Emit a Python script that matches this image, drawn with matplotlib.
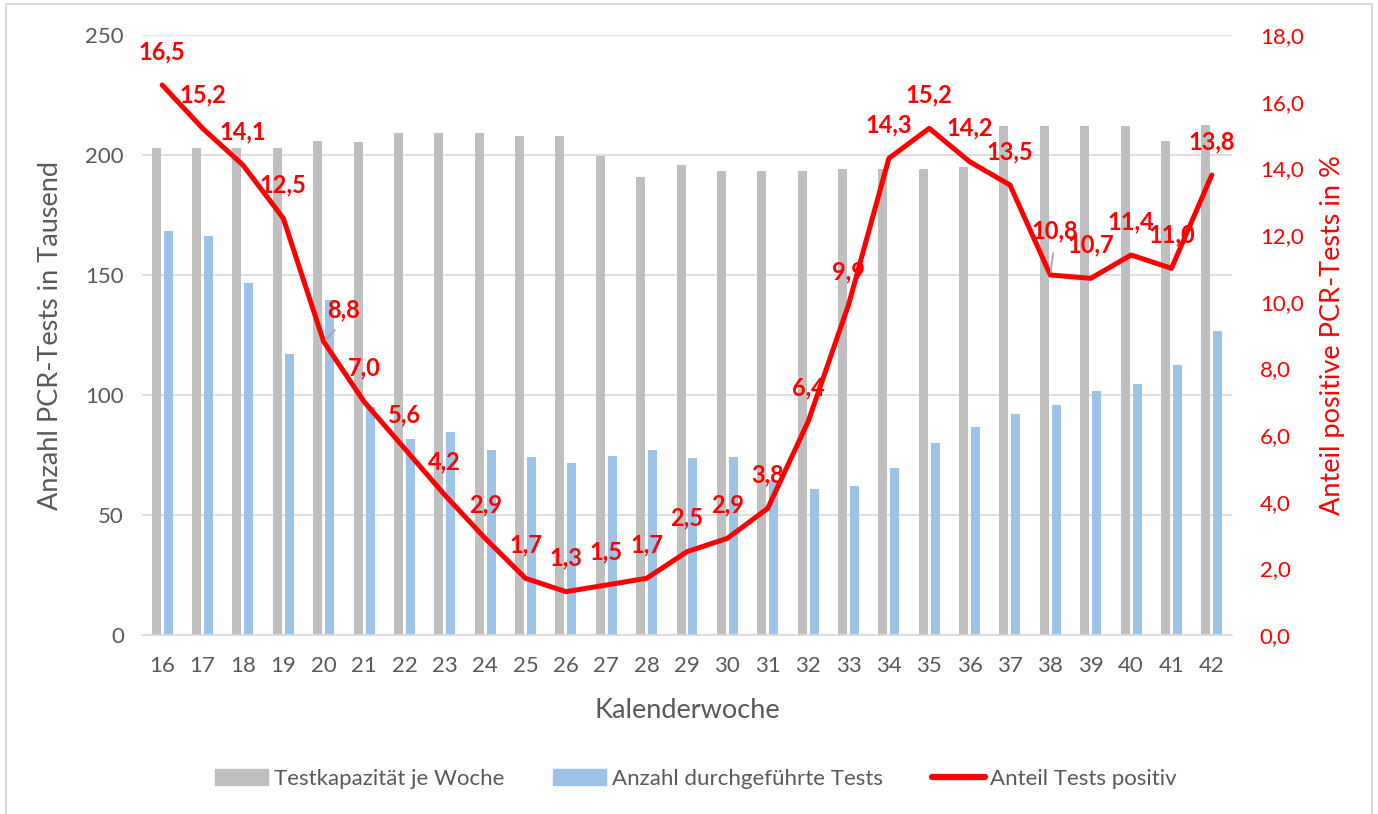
import numpy as np
import matplotlib
matplotlib.use("Agg")
import matplotlib.pyplot as plt
import matplotlib.patches as patches
from matplotlib.lines import Line2D

plt.rcParams["font.family"] = ["Lato", "DejaVu Sans"]

# data
weeks = [16, 17, 18, 19, 20, 21, 22, 23, 24, 25, 26, 27, 28, 29,
         30, 31, 32, 33, 34, 35, 36, 37, 38, 39, 40, 41, 42]
capacity = [203, 203, 203, 203, 206, 205.5, 209, 209, 209, 208, 208, 199.5, 191, 196,
            193.3, 193.3, 193.3, 194, 194, 194, 195, 212, 212, 212, 212, 206, 212.7]
tests = [168.5, 166.2, 146.5, 117, 139.7, 95, 81.8, 84.7, 77.1, 74, 71.8, 74.4, 76.9, 73.7,
         74, 64.6, 60.7, 61.9, 69.4, 80, 86.8, 91.9, 95.7, 101.8, 104.6, 112.6, 126.5]
positive = [16.5, 15.2, 14.1, 12.5, 8.8, 7.0, 5.6, 4.2, 2.9, 1.7, 1.3, 1.5, 1.7, 2.5,
            2.9, 3.8, 6.4, 9.9, 14.3, 15.2, 14.2, 13.5, 10.8, 10.7, 11.4, 11.0, 13.8]

GREY = "#BFBFBF"
BLUE = "#9DC3E6"
RED = "#FF0000"
TXT = "#595959"
GRID = "#D9D9D9"

fig = plt.figure(figsize=(13.78, 8.14), dpi=100)
ax = fig.add_axes([142 / 1378, 179 / 814, 1090 / 1378, 600 / 814])
ax2 = ax.twinx()

x = np.arange(len(weeks))
ax.bar(x - 0.148, capacity, width=0.223, color=GREY, zorder=2)
ax.bar(x + 0.148, tests, width=0.223, color=BLUE, zorder=2)

ax.set_xlim(-0.5, len(weeks) - 0.5)
ax.set_ylim(0, 250)
ax.set_yticks(np.arange(0, 251, 50))
ax.yaxis.grid(True, color=GRID, lw=1.2, zorder=0)
ax.set_axisbelow(True)
ax.set_xticks(x)
ax.set_xticklabels([str(w) for w in weeks])
for s in ["top", "right", "left"]:
    ax.spines[s].set_visible(False)
ax.spines["bottom"].set_color(GRID)
ax.spines["bottom"].set_linewidth(1.2)
ax.tick_params(axis="both", length=0, labelsize=16, labelcolor=TXT)
ax.tick_params(axis="x", pad=15)
ax.tick_params(axis="y", pad=13)
ax.set_xlabel("Kalenderwoche", fontsize=19.5, color=TXT, labelpad=16)
ax.set_ylabel("Anzahl PCR-Tests in Tausend", fontsize=19.5, color=TXT, labelpad=16)

ax2.plot(x, positive, color=RED, lw=3.6, solid_joinstyle="round", solid_capstyle="round", zorder=3)
ax2.set_ylim(0, 18)
ax2.set_yticks(np.arange(0, 18.1, 2))
ax2.set_yticklabels([f"{v:.1f}".replace(".", ",") for v in np.arange(0, 18.1, 2)])
for s in ax2.spines.values():
    s.set_visible(False)
ax2.tick_params(axis="y", length=0, labelsize=16, labelcolor=RED, pad=20)
ax2.set_ylabel("Anteil positive PCR-Tests in %", fontsize=19.5, color=RED, labelpad=12)

# data labels, offsets in points
offsets = {4: (14, 23), 22: (3, 32)}
for i, v in enumerate(positive):
    dx, dy = offsets.get(i, (0, 24))
    lab = f"{v:.1f}".replace(".", ",")
    kw = dict(xytext=(dx, dy), textcoords="offset points", ha="center", va="center",
              color=RED, fontsize=17, fontweight="bold", zorder=4)
    if i in offsets:
        kw["arrowprops"] = dict(arrowstyle="-", color="#A6A6A6", lw=1.3,
                                shrinkA=6, shrinkB=2, relpos=(0.5, 0.0))
    ax2.annotate(lab, (x[i], v), **kw)

handles = [patches.Patch(color=GREY), patches.Patch(color=BLUE),
           Line2D([0], [0], color=RED, lw=4.5, solid_capstyle="round")]
fig.legend(handles, ["Testkapazität je Woche", "Anzahl durchgeführte Tests", "Anteil Tests positiv"],
           loc="center", bbox_to_anchor=(0.505, 0.043), ncol=3, frameon=False,
           fontsize=16, labelcolor=TXT, handlelength=2.4, handleheight=0.7,
           handletextpad=0.25, columnspacing=2.2)

fig.patches.append(patches.Rectangle((6 / 1378, -0.01), 1366 / 1378, 1.01 - 4 / 814,
                                     transform=fig.transFigure, fill=False,
                                     edgecolor=GRID, lw=1.5))

fig.savefig("out.png", dpi=100)
